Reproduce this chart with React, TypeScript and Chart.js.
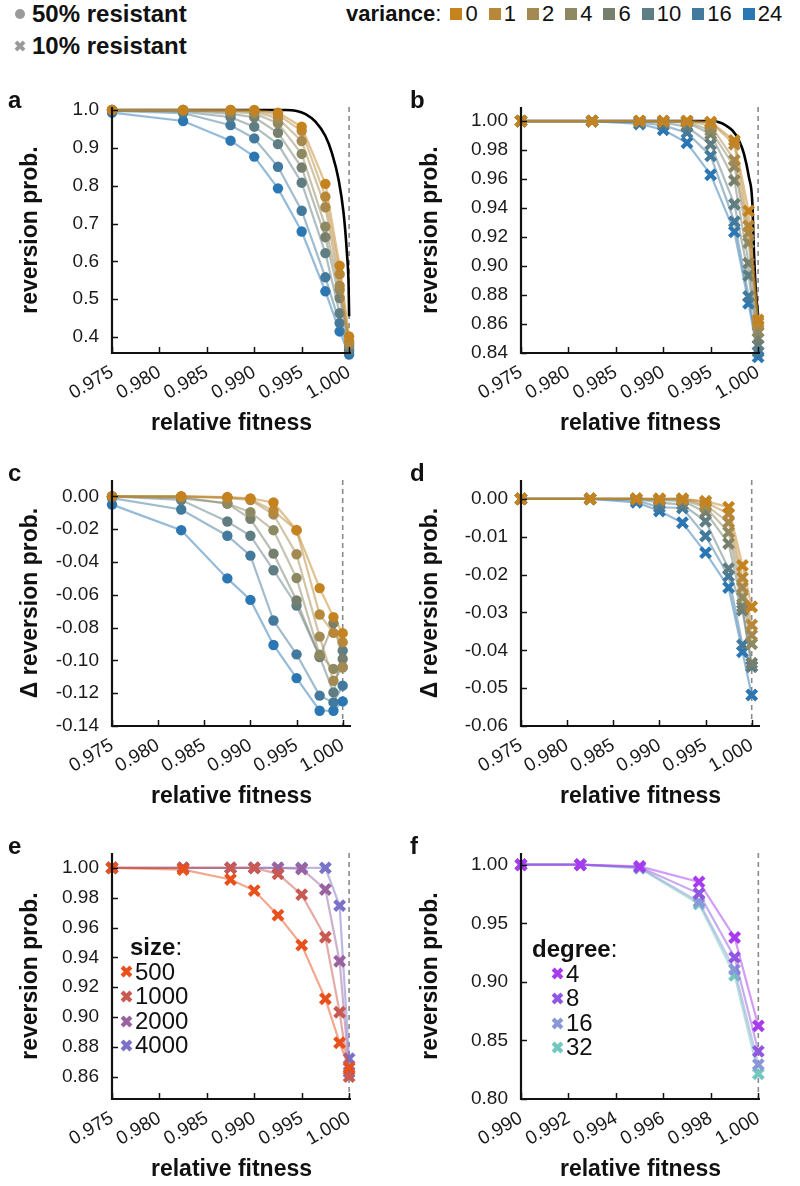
import React, { useEffect, useRef } from "react";
import { Chart, registerables } from "chart.js";
Chart.register(...registerables);

// ---------------- data ----------------
const FITNESS = [0.975, 0.9825, 0.9875, 0.99, 0.9925, 0.995, 0.9975, 0.999, 1.0];
const FITNESS_F = [0.99, 0.9925, 0.995, 0.9975, 0.999, 1.0];

const VARIANCE_LABELS = ["0", "1", "2", "4", "6", "10", "16", "24"];
const VARIANCE_COLORS = ["#c4831f", "#b7883a", "#a48a52", "#8d8a63", "#767f6e", "#5e7e84", "#43799c", "#2b77b3"];

const SIZE_LABELS = ["500", "1000", "2000", "4000"];
const SIZE_COLORS = ["#e8501c", "#c85a52", "#9a62a0", "#7a72c8"];

const DEGREE_LABELS = ["4", "8", "16", "32"];
const DEGREE_COLORS = ["#a83af0", "#9058e0", "#8a98d8", "#72c8c0"];

// panel a: 50% resistant, one row per variance, columns = FITNESS
const A_VALUES = [
  [1.0, 1.0, 1.0, 1.0, 0.993, 0.956, 0.805, 0.589, 0.402],
  [1.0, 1.0, 1.0, 0.999, 0.987, 0.945, 0.771, 0.566, 0.389],
  [1.0, 1.0, 0.999, 0.996, 0.978, 0.918, 0.743, 0.536, 0.384],
  [1.0, 1.0, 0.995, 0.991, 0.965, 0.884, 0.692, 0.525, 0.38],
  [1.0, 0.999, 0.99, 0.981, 0.94, 0.848, 0.664, 0.503, 0.376],
  [1.0, 0.996, 0.981, 0.956, 0.91, 0.808, 0.622, 0.463, 0.367],
  [0.998, 0.992, 0.96, 0.925, 0.85, 0.734, 0.558, 0.437, 0.362],
  [0.993, 0.971, 0.919, 0.877, 0.793, 0.679, 0.521, 0.415, 0.354],
];
const A_THEORY_X = [0.975, 0.9925, 0.99331, 0.99436, 0.99541, 0.99645, 0.9975, 0.9982, 0.9989, 0.99942, 0.99977, 0.99995, 1.0];
const A_THEORY_Y = [1.0, 1.0, 1.0, 0.9982, 0.9894, 0.9692, 0.9314, 0.8857, 0.8153, 0.7274, 0.6218, 0.534, 0.455];

// panel b: 10% resistant
const B_VALUES = [
  [1, 1, 1, 1, 1, 0.9993, 0.9866, 0.938, 0.8628],
  [1, 1, 1, 1, 1, 0.999, 0.984, 0.9276, 0.861],
  [1, 1, 1, 1, 1, 0.997, 0.973, 0.923, 0.8588],
  [1, 1, 1, 1, 0.9995, 0.9935, 0.9686, 0.916, 0.8547],
  [1, 1, 1, 0.9995, 0.999, 0.991, 0.959, 0.902, 0.85],
  [1, 1, 1, 0.999, 0.996, 0.984, 0.9426, 0.8935, 0.8454],
  [1, 1, 0.999, 0.997, 0.992, 0.976, 0.9306, 0.879, 0.8408],
  [1, 1, 0.998, 0.994, 0.985, 0.963, 0.9236, 0.8743, 0.8373],
];
const B_THEORY_X = [0.975, 0.995, 0.99589, 0.99659, 0.99729, 0.99799, 0.99851, 0.99904, 0.99938, 0.99956, 0.99977, 1.0];
const B_THEORY_Y = [1.0, 1.0, 0.9991, 0.997, 0.9935, 0.9866, 0.9774, 0.9611, 0.9449, 0.9102, 0.8824, 0.866];

// panel c: delta reversion prob., 50% resistant
const C_VALUES = [
  [0, 0, -0.0004, -0.0012, -0.0037, -0.0206, -0.0559, -0.0736, -0.0834],
  [0, 0, -0.0006, -0.0016, -0.0088, -0.0206, -0.072, -0.0832, -0.0889],
  [0, 0, -0.001, -0.0022, -0.011, -0.0353, -0.0855, -0.1124, -0.1042],
  [0, -0.0004, -0.0043, -0.0096, -0.0206, -0.0498, -0.0965, -0.1052, -0.1042],
  [0, -0.001, -0.0043, -0.0137, -0.0349, -0.0635, -0.098, -0.0773, -0.0991],
  [0, -0.0022, -0.0153, -0.024, -0.045, -0.0665, -0.0975, -0.1195, -0.094],
  [-0.001, -0.008, -0.024, -0.0361, -0.0757, -0.0963, -0.1215, -0.1256, -0.1154],
  [-0.005, -0.0206, -0.05, -0.0631, -0.0906, -0.1108, -0.1307, -0.1307, -0.125],
];

// panel d: delta reversion prob., 10% resistant
const D_VALUES = [
  [0, 0, 0, 0, 0, -0.0006, -0.0022, -0.0176, -0.0285],
  [0, 0, 0, 0, 0, -0.0009, -0.0039, -0.0208, -0.0333],
  [0, 0, 0, 0, 0, -0.0016, -0.0062, -0.0234, -0.036],
  [0, 0, 0, -0.0002, -0.0002, -0.0022, -0.0088, -0.026, -0.0383],
  [0, 0, 0, -0.0003, -0.0005, -0.0035, -0.0118, -0.0285, -0.0434],
  [0, 0, 0, -0.001, -0.0015, -0.0059, -0.0184, -0.0294, -0.0443],
  [0, 0, -0.0004, -0.0022, -0.0024, -0.0098, -0.0204, -0.0386, -0.0443],
  [0, 0, -0.0009, -0.0032, -0.0063, -0.0142, -0.0234, -0.0404, -0.0518],
];

// panel e: population size
const E_VALUES = [
  [1.0, 0.9989, 0.9922, 0.9848, 0.9683, 0.9482, 0.9122, 0.8827, 0.866],
  [1.0, 1.0, 1.0, 1.0, 0.996, 0.9821, 0.9535, 0.9032, 0.86],
  [1.0, 1.0, 1.0, 1.0, 1.0, 0.9993, 0.9855, 0.9374, 0.863],
  [1.0, 1.0, 1.0, 1.0, 1.0, 1.0, 1.0, 0.9747, 0.872],
];

// panel f: degree
const F_VALUES = [
  [1.0, 1.0, 0.9986, 0.9853, 0.9379, 0.8624],
  [1.0, 1.0, 0.998, 0.9754, 0.9209, 0.8407],
  [1.0, 1.0, 0.9975, 0.9684, 0.9104, 0.8294],
  [1.0, 1.0, 0.9969, 0.9664, 0.9056, 0.8215],
];

// tick values
const X_TICKS = [0.975, 0.98, 0.985, 0.99, 0.995, 1.0];
const X_TICKS_F = [0.99, 0.992, 0.994, 0.996, 0.998, 1.0];
const Y_TICKS_A = [0.4, 0.5, 0.6, 0.7, 0.8, 0.9, 1.0];
const Y_TICKS_B = [0.84, 0.86, 0.88, 0.9, 0.92, 0.94, 0.96, 0.98, 1.0];
const Y_TICKS_C = [-0.14, -0.12, -0.1, -0.08, -0.06, -0.04, -0.02, 0.0];
const Y_TICKS_D = [-0.06, -0.05, -0.04, -0.03, -0.02, -0.01, 0.0];
const Y_TICKS_E = [0.86, 0.88, 0.9, 0.92, 0.94, 0.96, 0.98, 1.0];
const Y_TICKS_F = [0.8, 0.85, 0.9, 0.95, 1.0];

// ---------------- rendering ----------------
const FONT = "'Liberation Sans', Arial, Helvetica, sans-serif";

function withAlpha(hex: string, a: number) {
  const r = parseInt(hex.slice(1, 3), 16);
  const g = parseInt(hex.slice(3, 5), 16);
  const b = parseInt(hex.slice(5, 7), 16);
  return `rgba(${r},${g},${b},${a})`;
}

type Series = { label: string; color: string; xs: number[]; ys: number[] };
type PanelDef = {
  left: number;
  top: number;
  yWidth: number;
  padRight: number;
  xMin: number;
  xMax: number;
  xTicks: number[];
  yMin: number;
  yMax: number;
  yTicks: number[];
  yDigits: number;
  yTitle: string;
  series: Series[];
  marker: "circle" | "crossRot";
  theory?: { xs: number[]; ys: number[] };
};

const axisPlugin = {
  id: "axisDecor",
  beforeDatasetsDraw(chart: any) {
    const { ctx, chartArea, scales } = chart;
    const x = scales.x;
    const px = x.getPixelForValue(1.0);
    ctx.save();
    ctx.strokeStyle = "#8a8a8a";
    ctx.lineWidth = 1.6;
    ctx.setLineDash([5, 4]);
    ctx.beginPath();
    ctx.moveTo(px, chartArea.top);
    ctx.lineTo(px, chartArea.bottom);
    ctx.stroke();
    ctx.restore();
  },
  afterDraw(chart: any) {
    const { ctx, chartArea, scales } = chart;
    const x = scales.x;
    const y = scales.y;
    ctx.save();
    ctx.strokeStyle = "#111";
    ctx.lineWidth = 1.5;
    x.ticks.forEach((t: any) => {
      const p = Math.round(x.getPixelForValue(t.value)) + 0.5;
      ctx.beginPath();
      ctx.moveTo(p, chartArea.bottom);
      ctx.lineTo(p, chartArea.bottom - 6);
      ctx.stroke();
    });
    y.ticks.forEach((t: any) => {
      const p = Math.round(y.getPixelForValue(t.value)) + 0.5;
      ctx.beginPath();
      ctx.moveTo(chartArea.left, p);
      ctx.lineTo(chartArea.left + 6, p);
      ctx.stroke();
    });
    ctx.lineWidth = 2.2;
    ctx.beginPath();
    ctx.moveTo(chartArea.left, chartArea.top);
    ctx.lineTo(chartArea.left, chartArea.bottom);
    ctx.lineTo(chartArea.right, chartArea.bottom);
    ctx.stroke();
    ctx.restore();
  },
};

function buildConfig(p: PanelDef): any {
  const datasets: any[] = p.series.map((s) => ({
    label: s.label,
    data: s.xs.map((x, i) => ({ x, y: s.ys[i] })),
    borderColor: withAlpha(s.color, 0.5),
    borderWidth: 2.2,
    pointStyle: p.marker,
    pointRadius: p.marker === "circle" ? 5.2 : 7,
    pointBorderWidth: p.marker === "circle" ? 0 : 4.2,
    pointBackgroundColor: s.color,
    pointBorderColor: s.color,
    clip: false,
    tension: 0,
  }));
  if (p.theory) {
    datasets.push({
      label: "theory",
      data: p.theory.xs.map((x, i) => ({ x, y: p.theory!.ys[i] })),
      borderColor: "#000",
      borderWidth: 2.6,
      pointRadius: 0,
      cubicInterpolationMode: "monotone",
      clip: false,
    });
  }
  const tickFont = { family: FONT, size: 19 };
  return {
    type: "line",
    data: { datasets },
    plugins: [axisPlugin],
    options: {
      animation: false,
      responsive: false,
      devicePixelRatio: 1,
      layout: { padding: { top: 47, right: p.padRight, left: 0, bottom: 0 } },
      plugins: { legend: { display: false }, tooltip: { enabled: false } },
      scales: {
        x: {
          type: "linear",
          min: p.xMin,
          max: p.xMax,
          grid: { display: false, drawTicks: false },
          border: { display: false },
          afterBuildTicks: (scale: any) => {
            scale.ticks = p.xTicks.map((v) => ({ value: v }));
          },
          afterFit: (scale: any) => {
            scale.height = 87;
          },
          ticks: {
            autoSkip: false,
            minRotation: 30,
            maxRotation: 30,
            padding: 8,
            color: "#1a1a1a",
            font: tickFont,
            callback: (v: any) => Number(v).toFixed(3),
          },
          title: {
            display: true,
            text: "relative fitness",
            color: "#111",
            font: { family: FONT, size: 23, weight: "bold" },
            padding: { top: 0, bottom: 3 },
          },
        },
        y: {
          type: "linear",
          min: p.yMin,
          max: p.yMax,
          grid: { display: false, drawTicks: false },
          border: { display: false },
          afterBuildTicks: (scale: any) => {
            scale.ticks = p.yTicks.map((v) => ({ value: v }));
          },
          afterFit: (scale: any) => {
            scale.width = p.yWidth;
          },
          ticks: {
            padding: 13,
            color: "#1a1a1a",
            font: tickFont,
            callback: (v: any) => Number(v).toFixed(p.yDigits),
          },
          title: {
            display: true,
            text: p.yTitle,
            color: "#111",
            font: { family: FONT, size: 23, weight: "bold" },
            padding: { top: 17, bottom: 0 },
          },
        },
      },
    },
  };
}

function Panel({ def }: { def: PanelDef }) {
  const ref = useRef<HTMLCanvasElement | null>(null);
  useEffect(() => {
    if (!ref.current) return;
    const chart = new Chart(ref.current, buildConfig(def));
    return () => chart.destroy();
  }, [def]);
  return (
    <canvas
      ref={ref}
      width={400}
      height={380}
      style={{ position: "absolute", left: def.left, top: def.top, width: 400, height: 380 }}
    />
  );
}

function mkSeries(labels: string[], colors: string[], xs: number[], values: number[][]): Series[] {
  return values.map((ys, i) => ({ label: labels[i], color: colors[i], xs, ys }));
}

const LEFT_COL = { yWidth: 112, padRight: 49 };
const RIGHT_COL = { yWidth: 121, padRight: 40 };
const ROW_TOPS = [60, 433, 806];

const PANELS: PanelDef[] = [
  {
    left: 0, top: ROW_TOPS[0], ...LEFT_COL,
    xMin: 0.975, xMax: 1.0002, xTicks: X_TICKS,
    yMin: 0.358, yMax: 1.008, yTicks: Y_TICKS_A, yDigits: 1,
    yTitle: "reversion prob.",
    series: mkSeries(VARIANCE_LABELS, VARIANCE_COLORS, FITNESS, A_VALUES),
    marker: "circle",
    theory: { xs: A_THEORY_X, ys: A_THEORY_Y },
  },
  {
    left: 400, top: ROW_TOPS[0], ...RIGHT_COL,
    xMin: 0.975, xMax: 1.0002, xTicks: X_TICKS,
    yMin: 0.84, yMax: 1.0097, yTicks: Y_TICKS_B, yDigits: 2,
    yTitle: "reversion prob.",
    series: mkSeries(VARIANCE_LABELS, VARIANCE_COLORS, FITNESS, B_VALUES),
    marker: "crossRot",
    theory: { xs: B_THEORY_X, ys: B_THEORY_Y },
  },
  {
    left: 0, top: ROW_TOPS[1], ...LEFT_COL,
    xMin: 0.975, xMax: 1.0009, xTicks: X_TICKS,
    yMin: -0.14, yMax: 0.01, yTicks: Y_TICKS_C, yDigits: 2,
    yTitle: "\u0394 reversion prob.",
    series: mkSeries(VARIANCE_LABELS, VARIANCE_COLORS, FITNESS, C_VALUES),
    marker: "circle",
  },
  {
    left: 400, top: ROW_TOPS[1], ...RIGHT_COL,
    xMin: 0.975, xMax: 1.0009, xTicks: X_TICKS,
    yMin: -0.06, yMax: 0.005, yTicks: Y_TICKS_D, yDigits: 2,
    yTitle: "\u0394 reversion prob.",
    series: mkSeries(VARIANCE_LABELS, VARIANCE_COLORS, FITNESS, D_VALUES),
    marker: "crossRot",
  },
  {
    left: 0, top: ROW_TOPS[2], ...LEFT_COL,
    xMin: 0.975, xMax: 1.0002, xTicks: X_TICKS,
    yMin: 0.845, yMax: 1.01, yTicks: Y_TICKS_E, yDigits: 2,
    yTitle: "reversion prob.",
    series: mkSeries(SIZE_LABELS, SIZE_COLORS, FITNESS, E_VALUES),
    marker: "crossRot",
  },
  {
    left: 400, top: ROW_TOPS[2], ...RIGHT_COL,
    xMin: 0.99, xMax: 1.00007, xTicks: X_TICKS_F,
    yMin: 0.8, yMax: 1.01, yTicks: Y_TICKS_F, yDigits: 2,
    yTitle: "reversion prob.",
    series: mkSeries(DEGREE_LABELS, DEGREE_COLORS, FITNESS_F, F_VALUES),
    marker: "crossRot",
  },
];

function XMark({ color, size }: { color: string; size: number }) {
  return (
    <svg width={size} height={size} viewBox="0 0 10 10" style={{ display: "block" }}>
      <path d="M1.6 1.6 L8.4 8.4 M8.4 1.6 L1.6 8.4" stroke={color} strokeWidth={3.2} strokeLinecap="butt" />
    </svg>
  );
}

const abs = (left: number, top: number): React.CSSProperties => ({ position: "absolute", left, top });

function TopLegend() {
  return (
    <>
      <div style={{ ...abs(15, 9), width: 10, height: 10, borderRadius: 5, background: "#9a9a9a" }} />
      <div style={{ ...abs(32, 0), fontSize: 24, fontWeight: "bold", lineHeight: "28px" }}>50% resistant</div>
      <div style={{ ...abs(14, 40) }}>
        <XMark color="#9a9a9a" size={12} />
      </div>
      <div style={{ ...abs(32, 32), fontSize: 24, fontWeight: "bold", lineHeight: "28px" }}>10% resistant</div>
      <div style={{ ...abs(346, 1), display: "flex", alignItems: "center", fontSize: 22, lineHeight: "26px" }}>
        <span style={{ fontWeight: "bold" }}>variance</span>
        <span>:</span>
        {VARIANCE_LABELS.map((l, i) => (
          <span key={l} style={{ display: "flex", alignItems: "center", marginLeft: i === 0 ? 9 : 11 }}>
            <span style={{ display: "inline-block", width: 12, height: 12, background: VARIANCE_COLORS[i], marginRight: 3 }} />
            <span>{l}</span>
          </span>
        ))}
      </div>
    </>
  );
}

function MarkerLegend({ left, top, title, labels, colors, indent }: { left: number; top: number; title: string; labels: string[]; colors: string[]; indent: number }) {
  return (
    <div style={{ ...abs(left, top), fontSize: 24, lineHeight: "24.6px" }}>
      <div style={{ marginLeft: 10 - indent * 0 }}>
        <span style={{ fontWeight: "bold" }}>{title}</span>:
      </div>
      {labels.map((l, i) => (
        <div key={l} style={{ display: "flex", alignItems: "center", marginLeft: indent }}>
          <XMark color={colors[i]} size={13} />
          <span style={{ marginLeft: 2 }}>{l}</span>
        </div>
      ))}
    </div>
  );
}

const LETTERS = [
  { t: "a", x: 8, y: 86 },
  { t: "b", x: 410, y: 86 },
  { t: "c", x: 8, y: 459 },
  { t: "d", x: 410, y: 459 },
  { t: "e", x: 8, y: 832 },
  { t: "f", x: 410, y: 832 },
];

export default function App() {
  return (
    <div style={{ position: "absolute", left: 0, top: 0, width: 800, height: 1186, background: "#fff", fontFamily: FONT, color: "#111", overflow: "hidden" }}>
      <TopLegend />
      {PANELS.map((p, i) => (
        <Panel key={i} def={p} />
      ))}
      {LETTERS.map((l) => (
        <div key={l.t} style={{ ...abs(l.x, l.y), fontSize: 24, fontWeight: "bold", lineHeight: "28px" }}>
          {l.t}
        </div>
      ))}
      <MarkerLegend left={120} top={935} title="size" labels={SIZE_LABELS} colors={SIZE_COLORS} indent={0} />
      <MarkerLegend left={522} top={937} title="degree" labels={DEGREE_LABELS} colors={DEGREE_COLORS} indent={29} />
    </div>
  );
}
